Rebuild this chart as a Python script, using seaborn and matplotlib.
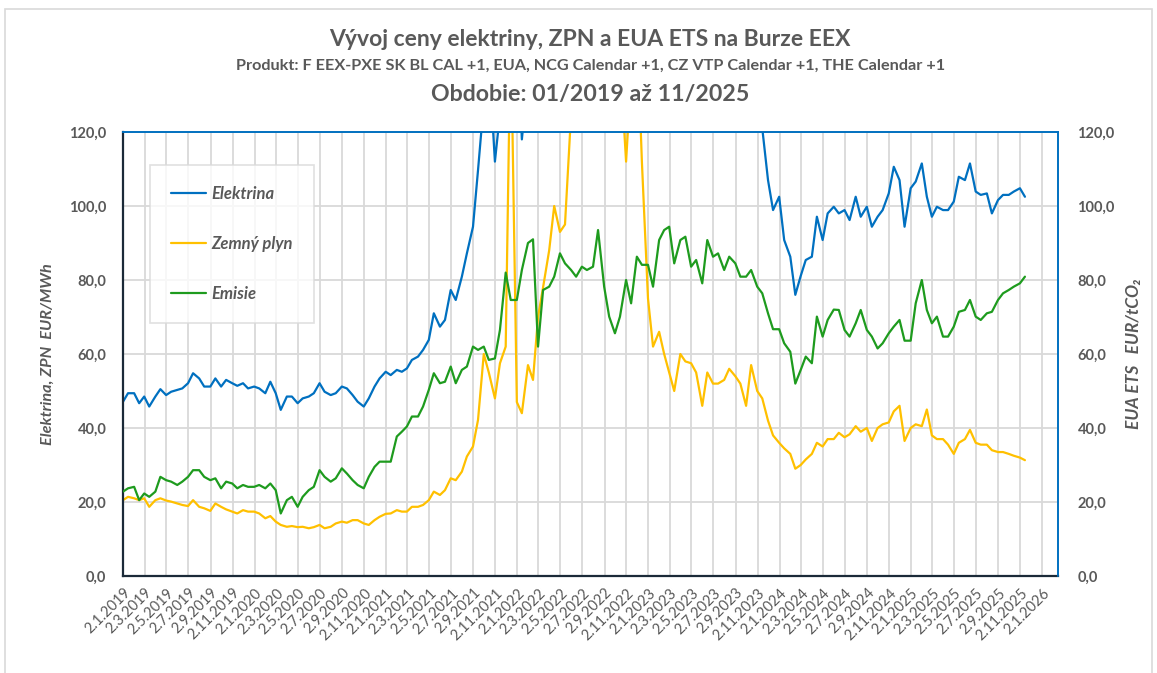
import pandas as pd
import matplotlib
matplotlib.use("Agg")
import matplotlib.pyplot as plt
import matplotlib.dates as mdates
from matplotlib.lines import Line2D
from matplotlib.patches import Rectangle
from matplotlib.ticker import FuncFormatter
import seaborn as sns

# values read off the chart, sampled on the 1st and 15th of each month (1/2019 - 11/2025)
# values above 120 run off the top of the chart
elektrina = [
    47.1, 49.4, 49.4, 46.7, 48.5, 45.8, 48.5, 50.5, 48.9, 49.8, 50.3, 50.7,   # 2019
    52.1, 54.8, 53.4, 51.2, 51.2, 53.4, 51.2, 53.0, 52.1, 51.4, 52.1, 50.7,
    51.2, 50.7, 49.4, 52.5, 49.4, 44.9, 48.5, 48.5, 46.7, 48.0, 48.5, 49.4,   # 2020
    52.1, 49.8, 48.9, 49.4, 51.2, 50.7, 48.9, 47.1, 45.8, 48.0, 51.2, 53.4,
    55.2, 54.3, 55.7, 55.2, 56.1, 58.4, 59.3, 61.1, 63.8, 71.0, 67.4, 69.2,   # 2021
    77.3, 74.6, 80.9, 87.2, 94.4, 109.7, 128.0, 140.0, 112.0, 125.0, 160.0, 220.0,
    150.0, 118.0, 135.0, 150.0, 230.0, 200.0, 210.0, 230.0, 250.0, 280.0, 320.0, 380.0,   # 2022
    450.0, 500.0, 650.0, 900.0, 700.0, 550.0, 450.0, 420.0, 380.0, 400.0, 350.0, 300.0,
    230.0, 200.0, 190.0, 170.0, 160.0, 150.0, 150.0, 145.0, 140.0, 145.0, 150.0, 140.0,   # 2023
    135.0, 140.0, 140.0, 135.0, 135.0, 130.0, 130.0, 128.0, 125.0, 121.0, 107.0, 98.9,
    102.5, 90.8, 86.3, 76.0, 81.1, 85.4, 86.3, 97.1, 90.8, 98.0, 99.8, 98.0,   # 2024
    98.9, 96.2, 102.5, 97.1, 99.8, 94.4, 97.1, 98.9, 103.4, 110.6, 107.0, 94.4,
    104.8, 106.6, 111.5, 102.5, 97.1, 99.8, 98.9, 98.9, 101.2, 107.9, 107.0, 111.5,   # 2025
    103.9, 103.0, 103.4, 98.0, 101.6, 103.0, 103.0, 103.9, 104.8, 102.5,
]

zemny_plyn = [
    20.5, 21.4, 21.0, 20.5, 21.0, 18.7, 20.5, 21.0, 20.4, 20.1, 19.6, 19.2,   # 2019
    18.9, 20.5, 18.7, 18.3, 17.6, 19.6, 18.7, 18.0, 17.4, 16.9, 17.8, 17.4,
    17.4, 16.9, 15.6, 16.2, 14.7, 13.8, 13.3, 13.5, 13.2, 13.3, 12.9, 13.2,   # 2020
    13.8, 12.9, 13.3, 14.2, 14.7, 14.4, 15.1, 15.1, 14.2, 13.8, 15.1, 16.0,
    16.8, 16.9, 17.8, 17.4, 17.4, 18.7, 18.7, 19.2, 20.5, 22.8, 21.9, 23.2,   # 2021
    26.4, 25.9, 28.2, 32.3, 35.0, 42.2, 60.0, 55.0, 48.0, 57.5, 62.0, 150.0,
    47.0, 44.0, 57.0, 53.0, 70.0, 78.0, 88.0, 100.0, 93.0, 95.0, 125.0, 140.0,   # 2022
    160.0, 180.0, 220.0, 280.0, 250.0, 200.0, 170.0, 140.0, 112.0, 135.0, 150.0, 112.0,
    75.0, 62.0, 66.0, 60.0, 55.0, 50.0, 60.0, 58.0, 57.5, 55.0, 46.0, 55.0,   # 2023
    52.0, 52.0, 53.0, 56.0, 54.0, 52.0, 46.0, 57.0, 50.0, 48.0, 42.0, 38.0,
    36.0, 34.5, 33.0, 29.0, 30.0, 31.5, 33.0, 36.0, 35.0, 37.0, 37.0, 38.7,   # 2024
    37.5, 38.3, 40.5, 39.0, 40.0, 36.5, 40.0, 41.0, 41.5, 44.5, 46.0, 36.5,
    40.0, 41.0, 40.5, 45.0, 38.0, 37.0, 37.0, 35.5, 33.0, 36.0, 37.0, 39.5,   # 2025
    36.0, 35.5, 35.5, 34.0, 33.5, 33.5, 33.0, 32.5, 32.0, 31.3,
]

emisie = [
    22.8, 23.7, 24.1, 20.5, 22.3, 21.4, 22.8, 26.8, 25.9, 25.5, 24.6, 25.5,   # 2019
    26.8, 28.6, 28.6, 26.8, 25.9, 26.4, 23.7, 25.5, 25.0, 23.7, 24.6, 24.1,
    24.1, 24.6, 23.7, 25.0, 23.2, 16.9, 20.5, 21.4, 18.7, 21.4, 23.2, 24.1,   # 2020
    28.6, 26.8, 25.5, 26.4, 29.1, 27.7, 25.9, 24.6, 23.7, 26.8, 29.5, 30.9,
    30.9, 30.9, 37.7, 39.0, 40.4, 43.1, 43.1, 45.8, 50.3, 54.8, 52.1, 52.5,   # 2021
    56.6, 52.1, 55.7, 56.6, 62.0, 61.1, 62.0, 58.4, 58.8, 66.5, 82.0, 74.6,
    74.6, 82.7, 90.0, 91.0, 62.0, 77.3, 78.2, 80.9, 87.2, 84.5, 82.7, 80.9,   # 2022
    83.6, 82.7, 83.6, 93.5, 78.2, 70.1, 65.6, 70.1, 80.0, 73.7, 86.3, 84.1,
    84.1, 78.2, 90.8, 93.5, 94.4, 84.5, 90.8, 91.7, 83.6, 85.4, 79.1, 90.8,   # 2023
    86.3, 87.2, 82.7, 86.3, 84.5, 80.9, 80.9, 82.7, 78.2, 76.4, 71.0, 66.7,
    66.7, 62.9, 60.6, 52.0, 55.7, 59.3, 57.5, 70.1, 64.7, 69.2, 72.0, 71.9,   # 2024
    66.5, 64.7, 68.3, 71.9, 66.5, 64.7, 61.5, 62.9, 65.6, 67.4, 69.2, 63.6,
    63.6, 73.7, 80.0, 71.9, 68.3, 70.1, 64.7, 64.7, 67.4, 71.4, 71.9, 74.6,   # 2025
    70.1, 69.2, 71.0, 71.4, 74.6, 76.4, 77.3, 78.2, 79.1, 80.9,
]

dates = pd.date_range("2019-01-01", "2025-11-15", freq="SMS")

df = pd.DataFrame({
    "datum": dates,
    "Elektrina": elektrina,
    "Zemný plyn": zemny_plyn,
    "Emisie": emisie,
})

c_el = "#0070C0"
c_gas = "#FFC000"
c_em = "#1E9B1E"
grey = "#595959"

sns.set_style("white")
plt.rcParams["font.family"] = ["Lato", "DejaVu Sans"]

fig = plt.figure(figsize=(11.57, 6.73), dpi=100)
ax = fig.add_axes([123 / 1157, 1 - 576 / 673, 935 / 1157, 444 / 673])
ax2 = ax.twinx()

sns.lineplot(data=df, x="datum", y="Elektrina", ax=ax, color=c_el, linewidth=1.6)
sns.lineplot(data=df, x="datum", y="Zemný plyn", ax=ax, color=c_gas, linewidth=1.6)
sns.lineplot(data=df, x="datum", y="Emisie", ax=ax2, color=c_em, linewidth=1.6)

for a in (ax, ax2):
    a.set_ylim(0, 120)
    a.set_xlim(pd.Timestamp("2019-01-01"), pd.Timestamp("2026-02-15"))
    a.set_yticks([0, 20, 40, 60, 80, 100, 120])
    a.yaxis.set_major_formatter(FuncFormatter(lambda v, p: f"{v:.1f}".replace(".", ",")))
    a.set_xlabel("")

ax.xaxis.set_major_locator(mdates.MonthLocator(bymonth=[1, 3, 5, 7, 9, 11], bymonthday=2))
ax.xaxis.set_major_formatter(FuncFormatter(
    lambda v, p: f"{mdates.num2date(v).day}.{mdates.num2date(v).month}.{mdates.num2date(v).year}"))

# grid
ax.grid(True, axis="both", color="#d9d9d9", linewidth=1.3)
ax.set_axisbelow(True)

# spines
for s in ("left", "bottom"):
    ax.spines[s].set_color("#1b2a38")
    ax.spines[s].set_linewidth(1.6)
for s in ("top", "right"):
    ax.spines[s].set_color(c_el)
    ax.spines[s].set_linewidth(1.2)
    ax2.spines[s].set_color(c_el)
    ax2.spines[s].set_linewidth(1.2)
ax2.spines["left"].set_visible(False)
ax2.spines["bottom"].set_visible(False)

ax.tick_params(axis="x", length=5, width=1.2, color="#1b2a38", labelsize=10.5,
               labelcolor=grey, pad=2)
plt.setp(ax.get_xticklabels(), rotation=45, ha="right", rotation_mode="anchor")
ax.tick_params(axis="y", length=0, labelsize=10.5, labelcolor=grey, pad=12)
ax2.tick_params(axis="y", length=0, labelsize=10.5, labelcolor=grey, pad=14)
for lbl in ax.get_yticklabels() + ax2.get_yticklabels():
    lbl.set_fontweight("bold")

ax.set_ylabel("Elektrina, ZPN  EUR/MWh", fontsize=11.7, fontweight="bold",
              style="italic", color=grey, labelpad=10)
ax2.set_ylabel("EUA ETS   EUR/tCO₂", fontsize=12.5, fontweight="bold",
               style="italic", color=grey, labelpad=8)

# legend
handles = [
    Line2D([], [], color=c_el, linewidth=1.6),
    Line2D([], [], color=c_gas, linewidth=1.6),
    Line2D([], [], color=c_em, linewidth=1.6),
]
leg = ax2.legend(handles, ["Elektrina", "Zemný plyn", "Emisie"],
                 loc="upper left", bbox_to_anchor=(0.029, 0.926), borderaxespad=0,
                 frameon=True, fancybox=False, edgecolor="#d9d9d9",
                 borderpad=1.25, labelspacing=2.05, handlelength=2.1,
                 handletextpad=0.35,
                 prop={"size": 12, "weight": "bold", "style": "italic"})
leg.get_frame().set_linewidth(1.2)
for t in leg.get_texts():
    t.set_color(grey)

# titles
fig.text(0.51, 1 - 40 / 673, "Vývoj ceny elektriny, ZPN a EUA ETS na Burze EEX",
         ha="center", va="center", fontsize=16.5, fontweight="bold", color=grey)
fig.text(0.51, 1 - 66 / 673,
         "Produkt: F EEX-PXE SK BL CAL +1, EUA, NCG Calendar +1, CZ VTP Calendar +1, THE Calendar +1",
         ha="center", va="center", fontsize=11.7, fontweight="bold", color=grey)
fig.text(0.51, 1 - 95 / 673, "Obdobie: 01/2019 až 11/2025",
         ha="center", va="center", fontsize=16.7, fontweight="bold", color=grey)

# chart area border
fig.patches.append(Rectangle((5 / 1157, -0.05), 1147 / 1157, 1.0366,
                             transform=fig.transFigure, fill=False,
                             edgecolor="#d9d9d9", linewidth=1.2))

fig.savefig("out.png", dpi=100, facecolor="white")
